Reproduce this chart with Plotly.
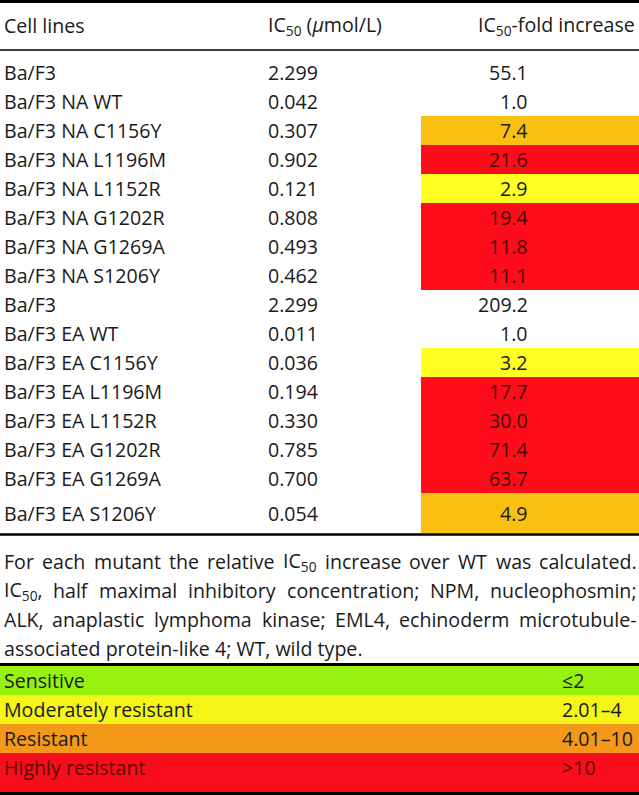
import plotly.graph_objects as go

# ---------------- data ----------------
header = ["Cell lines", "IC<sub>50</sub> (<i>μ</i>mol/L)", "IC<sub>50</sub>-fold increase"]
cell_lines = ["Ba/F3", "Ba/F3 NA WT", "Ba/F3 NA C1156Y", "Ba/F3 NA L1196M", "Ba/F3 NA L1152R",
              "Ba/F3 NA G1202R", "Ba/F3 NA G1269A", "Ba/F3 NA S1206Y", "Ba/F3", "Ba/F3 EA WT",
              "Ba/F3 EA C1156Y", "Ba/F3 EA L1196M", "Ba/F3 EA L1152R", "Ba/F3 EA G1202R",
              "Ba/F3 EA G1269A", "Ba/F3 EA S1206Y"]
ic50 = ["2.299", "0.042", "0.307", "0.902", "0.121", "0.808", "0.493", "0.462",
        "2.299", "0.011", "0.036", "0.194", "0.330", "0.785", "0.700", "0.054"]
fold = ["55.1", "1.0", "7.4", "21.6", "2.9", "19.4", "11.8", "11.1",
        "209.2", "1.0", "3.2", "17.7", "30.0", "71.4", "63.7", "4.9"]
fold_class = [None, None, "res", "high", "mod", "high", "high", "high",
              None, None, "mod", "high", "high", "high", "high", "res"]

footnote_lines = [
    "For each mutant the relative IC<sub>50</sub> increase over WT was calculated.",
    "IC<sub>50</sub>, half maximal inhibitory concentration; NPM, nucleophosmin;",
    "ALK, anaplastic lymphoma kinase; EML4, echinoderm microtubule-",
    "associated protein-like 4; WT, wild type.",
]
footnote_justify = [True, True, True, False]

legend_labels = ["Sensitive", "Moderately resistant", "Resistant", "Highly resistant"]
legend_ranges = ["≤2", "2.01–4", "4.01–10", ">10"]

# ---------------- style ----------------
W, H = 639, 795
FONT = "Open Sans"
FS = 19.6
TXT = "#1a1a1a"
cell_fill = {"mod": "#FFFF22", "res": "#F8C010", "high": "#FC0D19"}
cell_text = {"mod": TXT, "res": TXT, "high": "#4a0808"}
legend_fill = ["#97F20F", "#F5F519", "#F39818", "#F80E1A"]
legend_text = [TXT, TXT, TXT, "#5a0808"]

X0, X1 = 3, 636
COL2_X = 267
COL3_RIGHT = 529
CELL_LEFT = 421
ROW_TOP = 58
ROW_H = 29
TABLE_BOTTOM = 533
FOOT_Y0 = 561
FOOT_DY = 29
LEG_TOP = 666
LEG_BOTTOM = 792

# Open Sans advance widths (units / 2048) for justification
ADV = {' ': 532, ',': 502, '-': 659, '.': 545, ';': 545, '4': 1171, '5': 1171, '0': 1171,
       'A': 1296, 'C': 1292, 'E': 1139, 'F': 1057, 'I': 571, 'K': 1208, 'L': 1063, 'M': 1849,
       'N': 1544, 'P': 1255, 'T': 1106, 'W': 1942,
       'a': 1139, 'b': 1255, 'c': 975, 'd': 1255, 'e': 1149, 'f': 694, 'g': 1122, 'h': 1257,
       'i': 518, 'k': 1075, 'l': 518, 'm': 1905, 'n': 1257, 'o': 1237, 'p': 1255, 'r': 836,
       's': 977, 't': 723, 'u': 1257, 'v': 1026, 'w': 1593, 'x': 1073, 'y': 1028}


def word_width(word):
    total = 0.0
    scale = 1.0
    i = 0
    while i < len(word):
        if word.startswith("<sub>", i):
            scale = 0.7
            i += 5
            continue
        if word.startswith("</sub>", i):
            scale = 1.0
            i += 6
            continue
        total += ADV.get(word[i], 1150) * scale
        i += 1
    return total / 2048.0 * FS


fig = go.Figure()
fig.add_trace(go.Scatter(x=[0, W], y=[0, H], mode="markers", marker=dict(opacity=0),
                         hoverinfo="skip", showlegend=False))

shapes = []
ann = []


def text(x, y, s, anchor="left", color=TXT):
    ann.append(dict(x=x, y=y, xref="x", yref="y", text=s, showarrow=False,
                    xanchor=anchor, yanchor="middle", borderpad=0,
                    font=dict(family=FONT, size=FS, color=color)))


def hline(y, w):
    shapes.append(dict(type="line", xref="x", yref="y", x0=0, x1=W, y0=y, y1=y,
                       line=dict(color="black", width=w)))


# rules
hline(1.5, 3)
hline(50, 1.5)
hline(TABLE_BOTTOM + 1.5, 2.5)
hline(LEG_TOP - 1.5, 3)
hline(LEG_BOTTOM + 1.5, 3)

# header
text(X0, 25, header[0])
text(COL2_X, 25, header[1])
text(X1, 25, header[2], anchor="right")

# rows
n = len(cell_lines)
for i in range(n):
    top = ROW_TOP + i * ROW_H
    bot = TABLE_BOTTOM if i == n - 1 else top + ROW_H
    yc = top + ROW_H / 2 if i < n - 1 else (top + bot) / 2
    cls = fold_class[i]
    if cls:
        shapes.append(dict(type="rect", xref="x", yref="y", x0=CELL_LEFT, x1=W, y0=top, y1=bot,
                           fillcolor=cell_fill[cls], line=dict(width=0), layer="below"))
    text(X0, yc, cell_lines[i])
    text(COL2_X, yc, ic50[i])
    text(COL3_RIGHT, yc, fold[i], anchor="right", color=cell_text[cls] if cls else TXT)

# footnote
for k, line in enumerate(footnote_lines):
    y = FOOT_Y0 + k * FOOT_DY
    if footnote_justify[k]:
        words = line.split(" ")
        widths = [word_width(w) for w in words]
        gap = (X1 - X0 - sum(widths)) / (len(words) - 1)
        x = X0
        for w, wd in zip(words, widths):
            text(x, y, w)
            x += wd + gap
    else:
        text(X0, y, line)

# legend
for k in range(len(legend_labels)):
    top = LEG_TOP + k * ROW_H
    bot = LEG_BOTTOM if k == len(legend_labels) - 1 else top + ROW_H
    shapes.append(dict(type="rect", xref="x", yref="y", x0=0, x1=W, y0=top, y1=bot,
                       fillcolor=legend_fill[k], line=dict(width=0), layer="below"))
    yc = top + ROW_H / 2
    text(X0, yc, legend_labels[k], color=legend_text[k])
    text(561, yc, legend_ranges[k], color=legend_text[k])

fig.update_layout(
    width=W, height=H,
    margin=dict(l=0, r=0, t=0, b=0),
    paper_bgcolor="white", plot_bgcolor="white",
    xaxis=dict(range=[0, W], visible=False, fixedrange=True),
    yaxis=dict(range=[H, 0], visible=False, fixedrange=True),
    shapes=shapes, annotations=ann, showlegend=False,
)
fig.write_html(
    "out.html",
    config={"displayModeBar": False},
    post_script="document.body.style.margin='0';document.body.style.overflow='hidden';",
)
